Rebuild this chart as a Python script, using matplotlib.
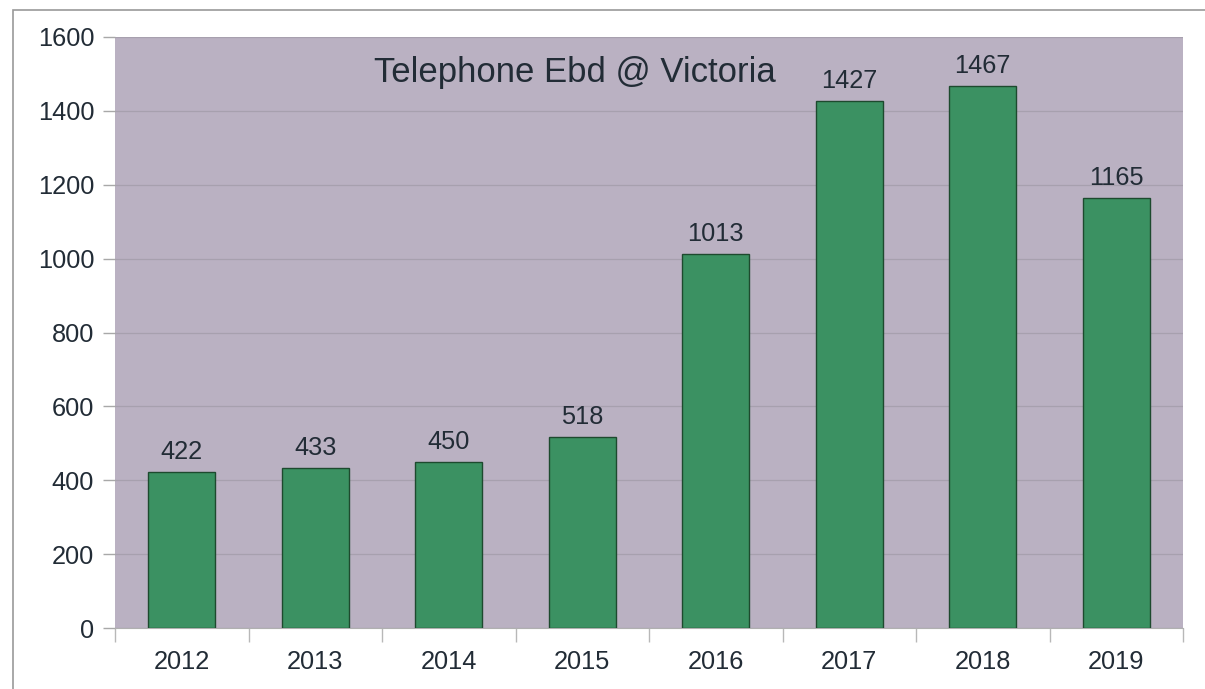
import matplotlib
matplotlib.use("Agg")
import matplotlib.pyplot as plt
import numpy as np
from matplotlib.patches import Rectangle

years = ["2012", "2013", "2014", "2015", "2016", "2017", "2018", "2019"]
counts = [422, 433, 450, 518, 1013, 1427, 1467, 1165]
y_ticks = [0, 200, 400, 600, 800, 1000, 1200, 1400, 1600]
title = "Telephone Ebd @ Victoria"

plt.rcParams["font.family"] = ["Liberation Sans", "DejaVu Sans"]
text_col = "#222c36"

fig = plt.figure(figsize=(12.05, 6.89), dpi=100)
fig.patch.set_facecolor("white")

# outer frame (top and left edges visible)
fig.patches.append(Rectangle((13 / 1205, -0.1), 1.2, 0.1 + (689 - 10) / 689,
                             transform=fig.transFigure, fill=False,
                             edgecolor="#9a9a9a", linewidth=1.2))

ax = fig.add_axes([115 / 1205, (689 - 628) / 689, (1183 - 115) / 1205, (628 - 37) / 689])
ax.set_facecolor("#bab1c2")

x = np.arange(len(years))
ax.bar(x, counts, width=0.5, color="#3b9162", edgecolor="#1d4a2e", linewidth=1.0, zorder=3)

for xi, v in zip(x, counts):
    ax.text(xi, v + 22, str(v), ha="center", va="bottom", fontsize=18.3, color=text_col, zorder=4)

ax.set_xlim(-0.5, len(years) - 0.5)
ax.set_ylim(0, 1600)
ax.set_yticks(y_ticks)
ax.set_yticklabels([str(t) for t in y_ticks])
ax.set_xticks(x)
ax.set_xticklabels(years)
ax.set_xticks(np.arange(-0.5, len(years)), minor=True)

ax.tick_params(axis="y", length=9, width=1, color="#a8a8a8", labelsize=18.3, labelcolor=text_col, pad=6)
ax.tick_params(axis="x", which="major", length=0, labelsize=18.3, labelcolor=text_col, pad=16)
ax.tick_params(axis="x", which="minor", length=10, width=1, color="#b8b8b8")

ax.grid(axis="y", color="#a7a0ae", linewidth=0.9, zorder=0)
for side in ["top", "right", "left"]:
    ax.spines[side].set_visible(False)
ax.spines["bottom"].set_color("#b0b0b0")

ax.text(0.431, 0.968, title, transform=ax.transAxes, ha="center", va="top",
        fontsize=25, color=text_col, zorder=5)

fig.savefig("out.png", dpi=100)
